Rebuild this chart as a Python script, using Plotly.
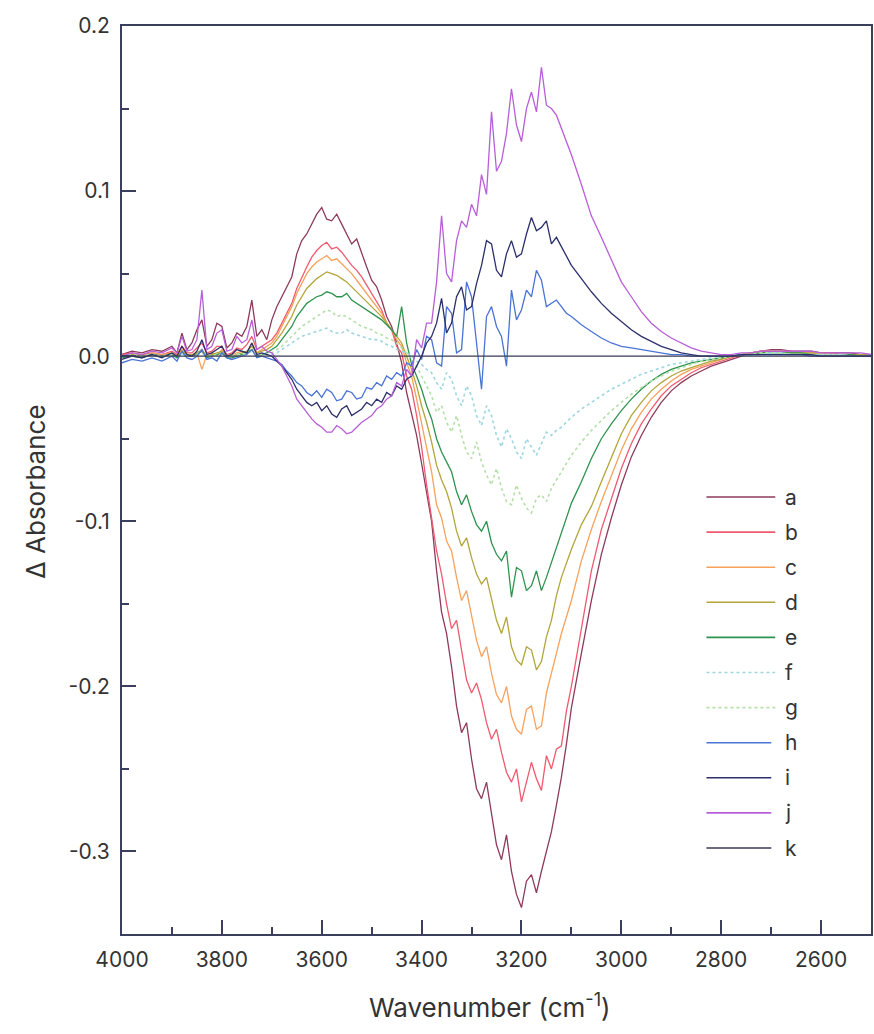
import plotly.graph_objects as go

# ---------------- data ----------------
# sampling grid: 20 cm-1 steps at the ends, 10 cm-1 steps in the noisy middle region
wavenumber = (list(range(4000, 3900, -20)) + list(range(3900, 3100, -10))
              + list(range(3100, 2499, -20)))

a_vals = [0.001, 0.003, 0.002, 0.004, 0.003,
          0.006, 0.002, 0.014, 0.004, 0.008, 0.016, 0.022, 0.006, 0.010, 0.020,
          0.018, 0.005, 0.008, 0.014, 0.012, 0.018, 0.034, 0.012, 0.016, 0.010,
          0.022, 0.030, 0.036, 0.042, 0.048, 0.062, 0.070, 0.074, 0.080, 0.086,
          0.090, 0.083, 0.082, 0.086, 0.080, 0.074, 0.068, 0.071, 0.062, 0.054,
          0.046, 0.042, 0.034, 0.024, 0.018, 0.008, -0.004, -0.022, -0.035, -0.048,
          -0.065, -0.082, -0.100, -0.130, -0.155, -0.168, -0.188, -0.212, -0.228, -0.222,
          -0.244, -0.262, -0.268, -0.258, -0.278, -0.296, -0.305, -0.290, -0.312, -0.326,
          -0.334, -0.318, -0.314, -0.325, -0.312, -0.300, -0.288, -0.272, -0.255, -0.235,
          -0.213, -0.180, -0.148, -0.120, -0.098, -0.078, -0.061, -0.048, -0.037, -0.028,
          -0.021, -0.016, -0.012, -0.009, -0.006, -0.004, -0.002, 0.000, 0.002, 0.003,
          0.004, 0.004, 0.003, 0.003, 0.003, 0.002, 0.002, 0.002, 0.002, 0.001, 0.001]
b_vals = [0.001, 0.002, 0.001, 0.002, 0.001,
          0.003, 0.001, 0.006, 0.002, 0.002, 0.005, 0.008, 0.002, 0.003, 0.006,
          0.006, 0.001, 0.002, 0.005, 0.004, 0.007, 0.012, 0.004, 0.006, 0.008,
          0.010, 0.014, 0.020, 0.026, 0.032, 0.041, 0.048, 0.054, 0.060, 0.064,
          0.067, 0.069, 0.065, 0.066, 0.063, 0.059, 0.055, 0.052, 0.048, 0.043,
          0.038, 0.033, 0.028, 0.020, 0.016, 0.006, 0.002, -0.012, -0.020, -0.036,
          -0.055, -0.078, -0.098, -0.118, -0.132, -0.150, -0.165, -0.160, -0.178, -0.196,
          -0.204, -0.198, -0.208, -0.222, -0.232, -0.226, -0.240, -0.252, -0.258, -0.250,
          -0.270, -0.258, -0.246, -0.256, -0.263, -0.242, -0.250, -0.238, -0.236, -0.215,
          -0.200, -0.165, -0.130, -0.105, -0.086, -0.068, -0.053, -0.041, -0.032, -0.024,
          -0.018, -0.014, -0.010, -0.007, -0.005, -0.003, -0.001, 0.001, 0.002, 0.003,
          0.003, 0.003, 0.003, 0.002, 0.002, 0.002, 0.002, 0.001, 0.001, 0.001, 0.001]
c_vals = [0.000, 0.001, 0.000, 0.002, 0.001,
          0.002, 0.000, 0.004, 0.001, 0.000, 0.002, -0.008, 0.001, 0.002, 0.000,
          0.004, 0.000, 0.001, 0.002, 0.003, 0.002, 0.008, 0.002, 0.004, 0.006,
          0.008, 0.012, 0.018, 0.024, 0.030, 0.038, 0.044, 0.050, 0.054, 0.057,
          0.059, 0.061, 0.058, 0.059, 0.056, 0.053, 0.050, 0.046, 0.042, 0.038,
          0.034, 0.030, 0.026, 0.020, 0.016, 0.010, 0.006, -0.004, -0.012, -0.026,
          -0.040, -0.056, -0.070, -0.090, -0.098, -0.112, -0.118, -0.134, -0.148, -0.142,
          -0.158, -0.172, -0.182, -0.176, -0.192, -0.205, -0.210, -0.200, -0.218, -0.226,
          -0.229, -0.214, -0.212, -0.226, -0.224, -0.204, -0.192, -0.180, -0.168, -0.158,
          -0.148, -0.124, -0.105, -0.088, -0.072, -0.057, -0.044, -0.034, -0.026, -0.020,
          -0.015, -0.011, -0.008, -0.006, -0.004, -0.002, 0.000, 0.001, 0.002, 0.003,
          0.003, 0.003, 0.002, 0.002, 0.002, 0.002, 0.001, 0.001, 0.001, 0.001, 0.001]
d_vals = [0.000, 0.001, 0.000, 0.001, 0.000,
          0.002, 0.000, 0.003, 0.001, 0.001, 0.002, 0.004, 0.000, 0.001, 0.002,
          0.003, 0.000, 0.000, 0.001, 0.002, 0.003, 0.006, 0.002, 0.003, 0.004,
          0.006, 0.010, 0.014, 0.019, 0.024, 0.031, 0.036, 0.041, 0.044, 0.047,
          0.049, 0.051, 0.050, 0.049, 0.047, 0.045, 0.042, 0.039, 0.036, 0.033,
          0.030, 0.027, 0.024, 0.020, 0.016, 0.012, 0.008, 0.000, -0.008, -0.018,
          -0.030, -0.040, -0.052, -0.066, -0.075, -0.082, -0.092, -0.106, -0.115, -0.110,
          -0.122, -0.132, -0.138, -0.134, -0.148, -0.160, -0.168, -0.158, -0.176, -0.184,
          -0.187, -0.176, -0.178, -0.190, -0.185, -0.170, -0.160, -0.145, -0.134, -0.125,
          -0.117, -0.102, -0.091, -0.076, -0.061, -0.047, -0.036, -0.028, -0.021, -0.016,
          -0.012, -0.009, -0.007, -0.005, -0.003, -0.002, 0.000, 0.001, 0.002, 0.002,
          0.003, 0.003, 0.002, 0.002, 0.002, 0.001, 0.001, 0.001, 0.001, 0.001, 0.001]
e_vals = [-0.001, 0.000, -0.001, 0.001, 0.000,
          0.001, -0.001, 0.002, 0.000, 0.000, 0.001, 0.003, -0.001, 0.000, 0.001,
          0.002, -0.001, -0.001, 0.000, 0.001, 0.002, 0.004, 0.000, 0.001, 0.002,
          0.004, 0.006, 0.010, 0.014, 0.018, 0.024, 0.028, 0.032, 0.034, 0.036,
          0.037, 0.039, 0.038, 0.036, 0.036, 0.038, 0.034, 0.032, 0.030, 0.028,
          0.026, 0.024, 0.022, 0.019, 0.016, 0.012, 0.030, 0.008, -0.005, -0.012,
          -0.020, -0.030, -0.038, -0.050, -0.058, -0.064, -0.070, -0.082, -0.090, -0.084,
          -0.094, -0.102, -0.106, -0.100, -0.113, -0.120, -0.124, -0.118, -0.146, -0.128,
          -0.130, -0.142, -0.139, -0.130, -0.142, -0.134, -0.125, -0.116, -0.106, -0.097,
          -0.089, -0.076, -0.062, -0.050, -0.041, -0.033, -0.026, -0.020, -0.015, -0.011,
          -0.008, -0.006, -0.004, -0.003, -0.002, -0.001, 0.000, 0.001, 0.001, 0.002,
          0.002, 0.002, 0.002, 0.002, 0.001, 0.001, 0.001, 0.001, 0.001, 0.000, 0.000]
f_vals = [0.000, 0.001, 0.000, 0.001, 0.000,
          0.001, 0.000, 0.002, 0.000, 0.000, 0.001, 0.002, 0.000, 0.000, 0.001,
          0.001, 0.000, 0.000, 0.001, 0.001, 0.002, 0.003, 0.001, 0.001, 0.001,
          0.001, 0.002, 0.004, 0.006, 0.008, 0.010, 0.012, 0.013, 0.014, 0.015,
          0.016, 0.017, 0.015, 0.014, 0.014, 0.016, 0.014, 0.013, 0.012, 0.011,
          0.010, 0.010, 0.009, 0.007, 0.006, 0.004, 0.003, 0.002, 0.000, -0.003,
          -0.005, -0.008, -0.010, -0.016, -0.020, -0.010, -0.014, -0.024, -0.030, -0.018,
          -0.024, -0.036, -0.042, -0.030, -0.036, -0.048, -0.055, -0.044, -0.050, -0.058,
          -0.062, -0.050, -0.055, -0.060, -0.053, -0.046, -0.048, -0.045, -0.043, -0.040,
          -0.037, -0.032, -0.028, -0.024, -0.020, -0.017, -0.014, -0.011, -0.009, -0.007,
          -0.005, -0.004, -0.003, -0.002, -0.001, 0.000, 0.000, 0.001, 0.001, 0.001,
          0.002, 0.002, 0.001, 0.001, 0.001, 0.001, 0.001, 0.001, 0.000, 0.000, 0.000]
g_vals = [0.000, 0.001, 0.000, 0.001, 0.000,
          0.001, 0.000, 0.002, 0.000, 0.000, 0.001, 0.002, 0.000, 0.000, 0.001,
          0.001, 0.000, 0.000, 0.001, 0.001, 0.002, 0.003, 0.001, 0.001, 0.001,
          0.002, 0.004, 0.006, 0.009, 0.012, 0.015, 0.018, 0.020, 0.022, 0.024,
          0.026, 0.028, 0.027, 0.024, 0.025, 0.024, 0.022, 0.020, 0.018, 0.017,
          0.016, 0.014, 0.013, 0.011, 0.010, 0.008, 0.005, 0.002, -0.002, -0.006,
          -0.012, -0.018, -0.024, -0.034, -0.030, -0.040, -0.046, -0.036, -0.048, -0.058,
          -0.062, -0.052, -0.064, -0.072, -0.078, -0.068, -0.080, -0.088, -0.090, -0.078,
          -0.086, -0.092, -0.095, -0.086, -0.084, -0.088, -0.080, -0.075, -0.070, -0.065,
          -0.060, -0.052, -0.045, -0.039, -0.033, -0.028, -0.023, -0.019, -0.015, -0.012,
          -0.009, -0.007, -0.005, -0.003, -0.002, -0.001, 0.000, 0.001, 0.001, 0.002,
          0.002, 0.002, 0.001, 0.001, 0.001, 0.001, 0.001, 0.001, 0.000, 0.000, 0.000]
h_vals = [-0.004, -0.002, -0.003, -0.001, -0.003,
          0.000, -0.003, 0.003, -0.001, -0.002, 0.000, 0.004, -0.002, -0.001, -0.003,
          0.002, -0.001, -0.002, -0.001, 0.000, 0.001, 0.004, -0.001, 0.000, -0.001,
          -0.002, -0.003, -0.005, -0.009, -0.012, -0.016, -0.018, -0.022, -0.024, -0.021,
          -0.025, -0.020, -0.022, -0.027, -0.026, -0.021, -0.022, -0.026, -0.025, -0.019,
          -0.020, -0.016, -0.018, -0.012, -0.014, -0.010, -0.012, -0.004, -0.006, 0.004,
          -0.002, 0.012, 0.010, -0.004, -0.006, 0.030, 0.026, 0.002, 0.004, 0.045,
          0.036, 0.006, -0.020, 0.024, 0.030, 0.018, 0.012, -0.006, 0.040, 0.022,
          0.028, 0.040, 0.036, 0.052, 0.046, 0.030, 0.032, 0.034, 0.030, 0.026,
          0.024, 0.019, 0.015, 0.011, 0.008, 0.006, 0.005, 0.004, 0.003, 0.002,
          0.001, 0.001, 0.000, 0.000, 0.000, 0.000, 0.000, 0.001, 0.001, 0.001,
          0.001, 0.001, 0.001, 0.001, 0.000, 0.000, 0.000, 0.000, 0.000, 0.000, 0.000]
i_vals = [-0.002, 0.000, -0.001, 0.001, -0.001,
          0.002, 0.000, 0.006, 0.001, 0.000, 0.003, 0.010, 0.001, 0.002, 0.004,
          0.006, 0.000, 0.001, 0.004, 0.003, 0.002, 0.008, 0.001, 0.002, 0.001,
          0.000, -0.003, -0.006, -0.010, -0.014, -0.020, -0.024, -0.028, -0.030, -0.028,
          -0.033, -0.030, -0.035, -0.037, -0.032, -0.030, -0.036, -0.034, -0.032, -0.028,
          -0.030, -0.026, -0.028, -0.022, -0.024, -0.018, -0.020, -0.014, -0.012, -0.006,
          0.000, 0.008, 0.012, 0.020, 0.035, 0.014, 0.020, 0.036, 0.042, 0.028,
          0.030, 0.044, 0.055, 0.070, 0.068, 0.052, 0.048, 0.062, 0.070, 0.060,
          0.062, 0.074, 0.084, 0.076, 0.078, 0.082, 0.068, 0.072, 0.066, 0.060,
          0.055, 0.047, 0.039, 0.032, 0.026, 0.021, 0.016, 0.012, 0.009, 0.006,
          0.004, 0.002, 0.001, 0.000, 0.000, 0.000, 0.000, 0.001, 0.001, 0.001,
          0.001, 0.001, 0.001, 0.001, 0.001, 0.000, 0.000, 0.000, 0.000, 0.000, 0.000]
j_vals = [0.000, 0.002, 0.001, 0.003, 0.002,
          0.005, 0.002, 0.012, 0.003, 0.004, 0.010, 0.040, 0.004, 0.006, 0.014,
          0.016, 0.003, 0.004, 0.012, 0.008, 0.010, 0.022, 0.004, 0.006, 0.003,
          0.002, -0.002, -0.006, -0.012, -0.018, -0.026, -0.030, -0.034, -0.038, -0.041,
          -0.043, -0.046, -0.046, -0.042, -0.044, -0.047, -0.046, -0.043, -0.040, -0.038,
          -0.036, -0.032, -0.030, -0.026, -0.024, -0.016, -0.018, -0.008, -0.012, 0.010,
          0.005, 0.020, 0.020, 0.045, 0.085, 0.050, 0.045, 0.070, 0.082, 0.078,
          0.092, 0.085, 0.110, 0.098, 0.148, 0.112, 0.118, 0.135, 0.162, 0.140,
          0.130, 0.150, 0.160, 0.148, 0.175, 0.152, 0.150, 0.146, 0.138, 0.130,
          0.122, 0.104, 0.085, 0.072, 0.058, 0.045, 0.036, 0.027, 0.020, 0.015,
          0.011, 0.008, 0.005, 0.003, 0.002, 0.001, 0.001, 0.002, 0.002, 0.003,
          0.003, 0.003, 0.003, 0.003, 0.003, 0.002, 0.002, 0.002, 0.002, 0.002, 0.001]
k_wavenumber = [4000, 2500]
k_vals = [0.0, 0.0]

series_names = ["a", "b", "c", "d", "e", "f", "g", "h", "i", "j", "k"]
series_values = [a_vals, b_vals, c_vals, d_vals, e_vals, f_vals, g_vals,
                 h_vals, i_vals, j_vals, k_vals]
series_x = [wavenumber] * 10 + [k_wavenumber]

for nm, xs, ys in zip(series_names, series_x, series_values):
    if len(xs) != len(ys):
        raise ValueError(f"series {nm}: {len(xs)} x vs {len(ys)} y")

x_tick_vals = [4000, 3800, 3600, 3400, 3200, 3000, 2800, 2600]
x_minor_vals = [3900, 3700, 3500, 3300, 3100, 2900, 2700]
y_tick_vals = [-0.3, -0.2, -0.1, 0.0, 0.1, 0.2]
y_tick_text = ["-0.3", "-0.2", "-0.1", "0.0", "0.1", "0.2"]
y_minor_vals = [-0.25, -0.15, -0.05, 0.05, 0.15]

# ---------------- style ----------------
colors = ["#8e3a5c", "#ef5a6e", "#f7a15c", "#b3a53a", "#2f9350", "#9ed6e0",
          "#b4e0a8", "#4a73d6", "#2b2f6b", "#b85fd8", "#3a3a55"]
dashes = ["solid", "solid", "solid", "solid", "solid", "dot", "dot",
          "solid", "solid", "solid", "solid"]
AXIS = "#3c3f5c"
TXT = "#333333"
FONT = "Inter, Arial, sans-serif"

W, H = 874, 1034
L, R, T, B = 122, 1, 26, 100
pw, ph = W - L - R, H - T - B


def px_x(px):
    return (px - L) / pw


def px_y(py):
    return (H - B - py) / ph


fig = go.Figure()
for xs, vals, name, col, dash in zip(series_x, series_values, series_names, colors, dashes):
    fig.add_trace(go.Scatter(
        x=xs, y=vals, mode="lines", name=name, showlegend=False,
        line=dict(color=col, width=1.3 if dash == "solid" else 1.6, dash=dash),
    ))

# manual legend (line samples + letters)
shapes = []
annotations = []
leg_y0, leg_step = 497, 35.1
for idx, (name, col, dash) in enumerate(zip(series_names, colors, dashes)):
    py = leg_y0 + idx * leg_step
    x_end = 777 if idx < 7 else 773
    shapes.append(dict(type="line", xref="paper", yref="paper",
                       x0=px_x(708), x1=px_x(x_end), y0=px_y(py), y1=px_y(py),
                       line=dict(color=col, width=1.6, dash=dash)))
    annotations.append(dict(xref="paper", yref="paper", x=px_x(785), y=px_y(py),
                            text=name, showarrow=False, xanchor="left", yanchor="middle",
                            font=dict(family=FONT, size=21, color=TXT)))

annotations.append(dict(xref="paper", yref="paper", x=px_x(491), y=0, yshift=-71,
                        text="Wavenumber (cm<sup>-1</sup>)", showarrow=False,
                        xanchor="center", yanchor="middle",
                        font=dict(family=FONT, size=26, color=TXT)))
annotations.append(dict(xref="paper", yref="paper", x=0, xshift=35 - L, y=px_y(492),
                        text="Δ Absorbance", showarrow=False, textangle=-90,
                        xanchor="center", yanchor="middle",
                        font=dict(family=FONT, size=26, color=TXT)))

fig.update_layout(
    width=W, height=H,
    margin=dict(l=L, r=R, t=T, b=B, pad=0),
    paper_bgcolor="white", plot_bgcolor="white",
    shapes=shapes, annotations=annotations,
    xaxis=dict(
        range=[4000, 2500], showgrid=False, zeroline=False,
        showline=True, linecolor=AXIS, linewidth=2, mirror=True,
        ticks="inside", ticklen=14, tickwidth=1.6, tickcolor=AXIS,
        tickmode="array", tickvals=x_tick_vals,
        ticklabelstandoff=6,
        tickfont=dict(family=FONT, size=21, color=TXT),
        minor=dict(ticks="inside", ticklen=7, tickwidth=1.6, tickcolor=AXIS,
                   tickmode="array", tickvals=x_minor_vals, showgrid=False),
    ),
    yaxis=dict(
        range=[-0.35, 0.2], showgrid=False, zeroline=False,
        showline=True, linecolor=AXIS, linewidth=2, mirror=True,
        ticks="inside", ticklen=14, tickwidth=1.6, tickcolor=AXIS,
        tickmode="array", tickvals=y_tick_vals, ticktext=y_tick_text,
        ticklabelstandoff=6,
        tickfont=dict(family=FONT, size=21, color=TXT),
        minor=dict(ticks="inside", ticklen=7, tickwidth=1.6, tickcolor=AXIS,
                   tickmode="array", tickvals=y_minor_vals, showgrid=False),
    ),
)

fig.write_html("out.html")
